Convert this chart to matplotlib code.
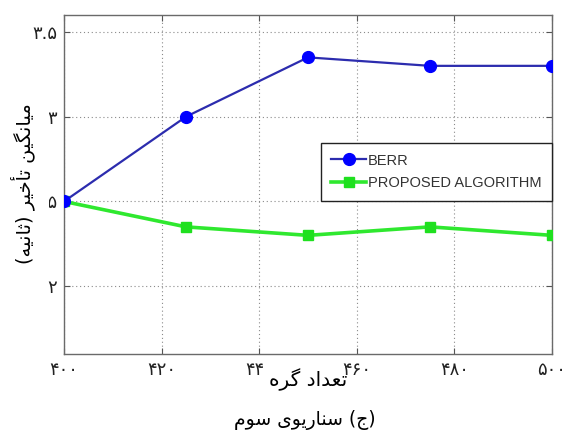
import matplotlib
matplotlib.use("Agg")
import matplotlib.pyplot as plt
from matplotlib.patches import Rectangle

# ---- data -------------------------------------------------------------
nodes = [400, 425, 450, 475, 500]
berr_delay = [2.50, 3.00, 3.35, 3.30, 3.30]
proposed_delay = [2.50, 2.35, 2.30, 2.35, 2.30]

series_names = ["BERR", "PROPOSED ALGORITHM"]

x_ticks = [400, 420, 440, 460, 480, 500]
x_tick_labels = ["۴۰۰", "۴۲۰", "۴۴۰", "۴۶۰", "۴۸۰", "۵۰۰"]
y_ticks = [2.0, 2.5, 3.0, 3.5]
y_tick_labels = ["۲", "۲.۵", "۳", "۳.۵"]

x_label = "تعداد گره"
y_label = "میانگین تأخیر (ثانیه)"
caption = "(ج) سناریوی سوم"

# ---- minimal Persian shaping (presentation forms, visual order) ------
# letter: (isolated, final, initial, medial); None = cannot join forward
FORMS = {
    "ا": ("\uFE8D", "\uFE8E", None, None),
    "أ": ("\uFE83", "\uFE84", None, None),
    "د": ("\uFEA9", "\uFEAA", None, None),
    "ر": ("\uFEAD", "\uFEAE", None, None),
    "و": ("\uFEED", "\uFEEE", None, None),
    "ت": ("\uFE95", "\uFE96", "\uFE97", "\uFE98"),
    "ث": ("\uFE99", "\uFE9A", "\uFE9B", "\uFE9C"),
    "ج": ("\uFE9D", "\uFE9E", "\uFE9F", "\uFEA0"),
    "خ": ("\uFEA5", "\uFEA6", "\uFEA7", "\uFEA8"),
    "س": ("\uFEB1", "\uFEB2", "\uFEB3", "\uFEB4"),
    "ع": ("\uFEC9", "\uFECA", "\uFECB", "\uFECC"),
    "م": ("\uFEE1", "\uFEE2", "\uFEE3", "\uFEE4"),
    "ن": ("\uFEE5", "\uFEE6", "\uFEE7", "\uFEE8"),
    "ه": ("\uFEE9", "\uFEEA", "\uFEEB", "\uFEEC"),
    "ی": ("\uFBFC", "\uFBFD", "\uFBFE", "\uFBFF"),
    "گ": ("\uFB92", "\uFB93", "\uFB94", "\uFB95"),
}
MIRROR = {"(": ")", ")": "("}


def shape_rtl(text):
    out = []
    n = len(text)
    for i, ch in enumerate(text):
        if ch not in FORMS:
            out.append(MIRROR.get(ch, ch))
            continue
        iso, fin, ini, med = FORMS[ch]
        prev = text[i - 1] if i > 0 else ""
        nxt = text[i + 1] if i + 1 < n else ""
        join_prev = prev in FORMS and FORMS[prev][2] is not None
        join_next = ini is not None and nxt in FORMS
        if join_prev and join_next:
            out.append(med)
        elif join_prev:
            out.append(fin)
        elif join_next:
            out.append(ini)
        else:
            out.append(iso)
    return "".join(reversed(out))


# ---- figure -----------------------------------------------------------
W, H = 563, 433
fig = plt.figure(figsize=(W / 100, H / 100), dpi=100)
fig.patch.set_facecolor("white")

ax_l, ax_r, ax_t, ax_b = 64, 552, 15, 354
ax = fig.add_axes([ax_l / W, 1 - ax_b / H, (ax_r - ax_l) / W, (ax_b - ax_t) / H])

ax.plot(nodes, berr_delay, color="#2c2cae", linewidth=1.6, marker="o",
        markersize=8.5, markerfacecolor="#0000ff", markeredgecolor="#0000ff",
        label=series_names[0], zorder=4)
ax.plot(nodes, proposed_delay, color="#2fe82f", linewidth=2.6, marker="s",
        markersize=7.5, markerfacecolor="#1fe01f", markeredgecolor="#1fe01f",
        label=series_names[1], zorder=3)

ax.set_xlim(400, 500)
ax.set_ylim(1.6, 3.6)
ax.set_xticks(x_ticks)
ax.set_xticklabels(x_tick_labels)
ax.set_yticks(y_ticks)
ax.set_yticklabels(y_tick_labels)

ax.grid(True, linestyle=(0, (1, 2.5)), color="#8a8a8a", linewidth=0.8)
ax.tick_params(direction="in", length=4, width=0.8, color="#555555",
               top=True, right=True, labelsize=13, labelcolor="#222222")
ax.tick_params(axis="x", pad=5)
ax.tick_params(axis="y", pad=5)
for s in ax.spines.values():
    s.set_color("#6a6a6a")
    s.set_linewidth(1.0)

leg = ax.legend(loc="lower right", bbox_to_anchor=(1.0, 0.452),
                frameon=True, fancybox=False, framealpha=1,
                edgecolor="#222222", fontsize=10.5, handlelength=2.4,
                handletextpad=0.1, borderpad=0.72, labelspacing=0.6,
                borderaxespad=0)
leg.get_frame().set_linewidth(1.0)
for t in leg.get_texts():
    t.set_family("Liberation Sans")
    t.set_color("#333333")

# white panels behind the axis titles
fig.patches.append(Rectangle((8 / W, 1 - 274 / H), 41 / W, 182 / H,
                             transform=fig.transFigure, facecolor="white",
                             edgecolor="none", zorder=5))
fig.patches.append(Rectangle((263 / W, 1 - 396 / H), 82 / W, 30 / H,
                             transform=fig.transFigure, facecolor="white",
                             edgecolor="none", zorder=5))

fig.text(23 / W, 1 - 184 / H, shape_rtl(y_label), rotation=90,
         ha="center", va="center", fontsize=14, family="DejaVu Sans",
         zorder=6)
fig.text(308 / W, 1 - 380 / H, shape_rtl(x_label), ha="center",
         va="center", fontsize=14.5, family="DejaVu Sans", zorder=6)
fig.text(305 / W, 1 - 420 / H, shape_rtl(caption), ha="center",
         va="center", fontsize=13.5, family="DejaVu Sans", zorder=6)

fig.savefig("out.png", dpi=100, facecolor="white")
